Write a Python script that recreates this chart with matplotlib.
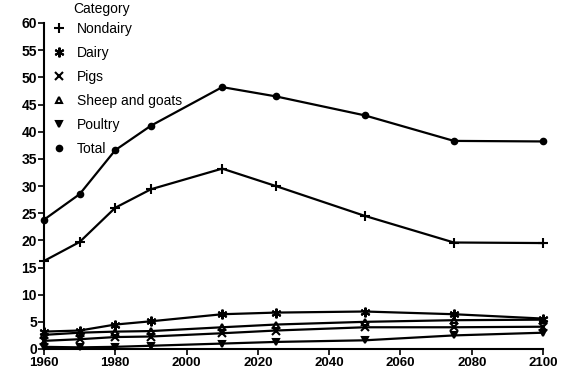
import matplotlib
matplotlib.use("Agg")
import matplotlib.pyplot as plt
from matplotlib.lines import Line2D

plt.rcParams['font.family'] = ['Liberation Sans', 'DejaVu Sans']

years = [1960, 1970, 1980, 1990, 2010, 2025, 2050, 2075, 2100]
nondairy = [16.2, 19.7, 26.0, 29.4, 33.2, 30.0, 24.5, 19.6, 19.5]
dairy = [3.2, 3.4, 4.5, 5.1, 6.4, 6.7, 6.9, 6.4, 5.6]
pigs = [1.5, 1.8, 2.2, 2.3, 2.9, 3.4, 4.0, 4.0, 4.1]
sheep_goats = [2.6, 3.0, 3.2, 3.3, 4.0, 4.5, 5.0, 5.3, 5.4]
poultry = [0.4, 0.3, 0.4, 0.6, 1.0, 1.3, 1.6, 2.5, 3.0]
total = [23.8, 28.5, 36.6, 41.1, 48.2, 46.5, 43.0, 38.3, 38.2]

series_names = ['Nondairy', 'Dairy', 'Pigs', 'Sheep and goats', 'Poultry', 'Total']
series_values = [nondairy, dairy, pigs, sheep_goats, poultry, total]
markers = ['+', (6, 2, 0), 'x', '^', 'v', 'o']
mfills = ['full', 'full', 'full', 'none', 'full', 'full']
msizes = [7, 7, 6, 5, 5, 4]

fig = plt.figure(figsize=(5.76, 3.73), dpi=100)
ax = fig.add_axes([44/576, 1-349/373, (543-44)/576, (349-23)/373])

for name, vals, m, mf, ms in zip(series_names, series_values, markers, mfills, msizes):
    ax.plot(years, vals, color='black', linewidth=1.6, marker=m, markersize=ms,
            fillstyle=mf, markeredgewidth=1.5, clip_on=False, zorder=3)

ax.set_xlim(1960, 2100)
ax.set_ylim(0, 60)
ax.set_xticks(range(1960, 2101, 20))
ax.set_yticks(range(0, 61, 5))
for s in ['top', 'right']:
    ax.spines[s].set_visible(False)
for s in ['left', 'bottom']:
    ax.spines[s].set_linewidth(1.5)
ax.tick_params(axis='both', direction='out', length=4, width=1.2, labelsize=10)
ax.tick_params(axis='y', pad=1)
ax.tick_params(axis='x', pad=2, labelsize=9.5)
for lab in ax.get_xticklabels() + ax.get_yticklabels():
    lab.set_fontweight('bold')

handles = [Line2D([], [], color='black', linestyle='none', marker=m, markersize=ms,
                  fillstyle=mf, markeredgewidth=1.5)
           for m, mf, ms in zip(markers, mfills, msizes)]
leg = ax.legend(handles, series_names, loc='upper left',
                bbox_to_anchor=(42/576, 1-12/373), bbox_transform=fig.transFigure,
                frameon=False, handlelength=1.0, handletextpad=0.8,
                labelspacing=0.72, fontsize=10, borderpad=0.2)
fig.text(73/576, 1-2/373, 'Category', fontsize=10, ha='left', va='top')
fig.savefig('out.png', dpi=100)
